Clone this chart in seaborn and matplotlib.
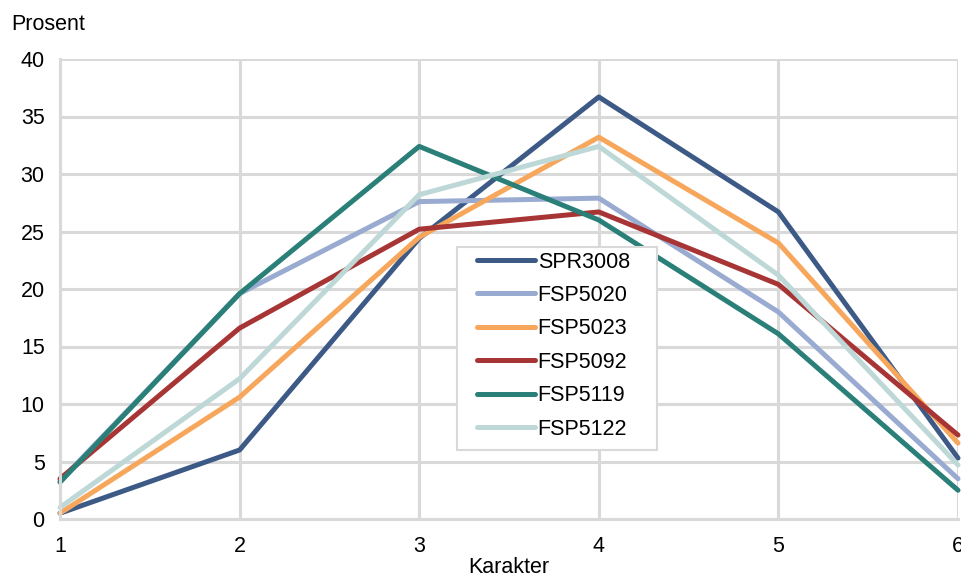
import pandas as pd
import matplotlib
matplotlib.use("Agg")
import matplotlib.pyplot as plt
from matplotlib.patches import Rectangle
import seaborn as sns


# DATA

karakter = [1, 2, 3, 4, 5, 6]

spr3008 = [0.5, 6.0, 24.4, 36.7, 26.7, 5.3]
fsp5020 = [3.3, 19.6, 27.6, 27.9, 18.0, 3.5]
fsp5023 = [0.5, 10.6, 24.5, 33.2, 24.0, 6.6]
fsp5092 = [3.5, 16.6, 25.2, 26.7, 20.4, 7.3]
fsp5119 = [3.2, 19.6, 32.4, 26.0, 16.1, 2.5]
fsp5122 = [1.0, 12.2, 28.2, 32.4, 21.2, 4.7]

series_names = ["SPR3008", "FSP5020", "FSP5023", "FSP5092", "FSP5119", "FSP5122"]
colors = ["#3d5a87", "#9aabd1", "#f7a75c", "#a83535", "#2a8079", "#bdd8d7"]

y_ticks = [0, 5, 10, 15, 20, 25, 30, 35, 40]

FS = 15.5


# build long table

values = [spr3008, fsp5020, fsp5023, fsp5092, fsp5119, fsp5122]
rows = []
for name, vals in zip(series_names, values):
    for k, v in zip(karakter, vals):
        rows.append({"Karakter": k, "Prosent": v, "Serie": name})
df = pd.DataFrame(rows)


# PLOT

sns.set_style("white")
plt.rcParams["font.family"] = ["Liberation Sans", "DejaVu Sans"]
plt.rcParams["text.color"] = "black"
plt.rcParams["axes.labelcolor"] = "black"

fig = plt.figure(figsize=(9.62, 5.76), dpi=100)
ax = fig.add_axes([60 / 962, 1 - 519 / 576, 898 / 962, 460 / 576])

sns.lineplot(
    data=df, x="Karakter", y="Prosent", hue="Serie",
    hue_order=series_names, palette=colors,
    linewidth=3.6, ax=ax, legend=False, clip_on=False,
)

ax.set_xlim(1, 6)
ax.set_ylim(0, 40)
ax.set_xticks(karakter)
ax.set_yticks(y_ticks)
ax.grid(True, color="#d9d9d9", linewidth=2.2)
ax.set_axisbelow(True)
for side in ["top", "right"]:
    ax.spines[side].set_visible(False)
for side in ["left", "bottom"]:
    ax.spines[side].set_color("#d9d9d9")
    ax.spines[side].set_linewidth(2.2)
ax.tick_params(length=0, labelsize=FS, colors="black")
ax.tick_params(axis="y", pad=11)
ax.tick_params(axis="x", pad=12)

ax.set_xlabel("Karakter", fontsize=FS, labelpad=0)
ax.set_ylabel("")
fig.text(11 / 962, 1 - 25 / 576, "Prosent", fontsize=FS, va="center", ha="left")

# legend box drawn by hand so the padding can differ per side
box = Rectangle((0.442, 0.150), 0.2227, 0.4413, transform=ax.transAxes,
                facecolor="white", edgecolor="#d9d9d9", linewidth=1.5, zorder=4.5)
ax.add_patch(box)

handles = [plt.Line2D([0], [0], color=c, linewidth=3.6) for c in colors]
leg = ax.legend(
    handles, series_names, loc="upper left", bbox_to_anchor=(0.4644, 0.5815),
    fontsize=FS, frameon=False, handlelength=2.7,
    labelspacing=0.58, borderpad=0, handletextpad=0.12, borderaxespad=0,
)
leg.set_zorder(5)

fig.savefig("out.png", dpi=100)
plt.close()
